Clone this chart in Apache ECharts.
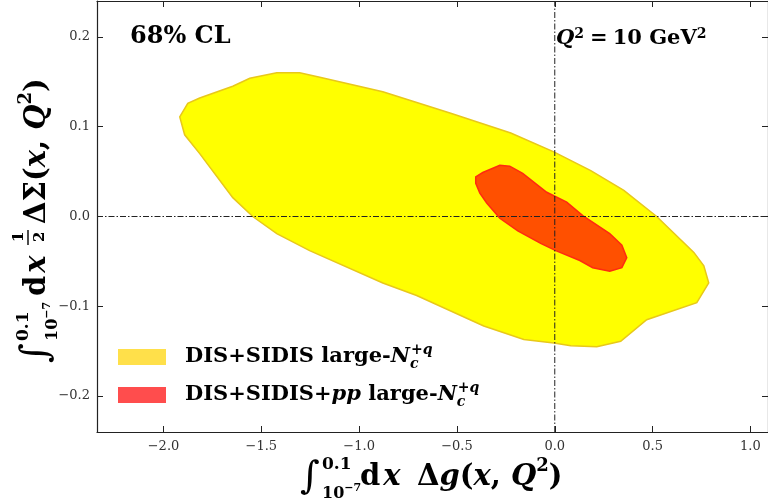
<!DOCTYPE html>
<html>
<head>
<meta charset="utf-8">
<script src="https://cdn.jsdelivr.net/npm/echarts@6/dist/echarts.min.js"></script>
<style>html,body{margin:0;padding:0;background:#fff}#c{width:768px;height:504px}</style>
</head>
<body>
<div id="c"></div>
<script>
// ---- data ----
const xTicks = [-2.0, -1.5, -1.0, -0.5, 0.0, 0.5, 1.0];
const yTicks = [-0.2, -0.1, 0.0, 0.1, 0.2];
const xRange = [-2.34, 1.09];
const yRange = [-0.24, 0.24];
const refX = 0.0;
const refY = 0.0;
const seriesNames = ['DIS+SIDIS large-Nc+q', 'DIS+SIDIS+pp large-Nc+q'];
// yellow 68% CL contour (DIS+SIDIS)
const yellowX = [-1.917, -1.876, -1.815, -1.646, -1.559, -1.421, -1.304, -1.201, -0.879, -0.532, -0.225, -0.005, 0.184, 0.353, 0.521, 0.711, 0.762, 0.787, 0.726, 0.470, 0.337, 0.215, 0.082, -0.005, -0.158, -0.363, -0.706, -0.879, -1.253, -1.421, -1.544, -1.646, -1.815, -1.892];
const yellowY = [0.111, 0.126, 0.132, 0.145, 0.154, 0.160, 0.160, 0.155, 0.139, 0.115, 0.093, 0.072, 0.051, 0.029, 0.000, -0.040, -0.055, -0.074, -0.096, -0.115, -0.139, -0.145, -0.144, -0.141, -0.137, -0.122, -0.088, -0.074, -0.038, -0.019, 0.000, 0.021, 0.070, 0.091];
// red 68% CL contour (DIS+SIDIS+pp)
const redX = [-0.404, -0.368, -0.281, -0.230, -0.164, -0.041, 0.061, 0.143, 0.281, 0.343, 0.368, 0.343, 0.281, 0.194, 0.128, 0.005, -0.072, -0.189, -0.281, -0.348, -0.383, -0.404];
const redY = [0.044, 0.049, 0.057, 0.056, 0.048, 0.027, 0.016, 0.001, -0.019, -0.032, -0.046, -0.057, -0.061, -0.057, -0.049, -0.038, -0.030, -0.016, -0.002, 0.015, 0.026, 0.037];

const SERIF = 'DejaVu Serif';
const fmtTick = v => (v < 0 ? '\u2212' : '') + Math.abs(v).toFixed(1);

function polySeries(name, xs, ys, fill, stroke, z) {
  const pts = xs.map((x, i) => [x, ys[i]]);
  return {
    type: 'custom', name: name, data: pts, z: z, silent: true,
    itemStyle: { color: fill },
    renderItem: function (params, api) {
      if (params.dataIndex !== 0) return null;
      return {
        type: 'polygon',
        shape: { points: pts.map(p => api.coord(p)) },
        style: { fill: fill, stroke: stroke, lineWidth: 1.5 }
      };
    }
  };
}

const axisLineStyle = { color: '#222', width: 1.2 };
const tickStyle = { inside: true, length: 6, lineStyle: { color: '#222', width: 1 } };

function mathRich(size, supSize, lh) {
  return {
    r: { fontFamily: SERIF, fontWeight: 'bold', fontSize: size, lineHeight: lh, verticalAlign: 'middle', fill: '#000' },
    i: { fontFamily: SERIF, fontWeight: 'bold', fontStyle: 'italic', fontSize: size, lineHeight: lh, verticalAlign: 'middle', fill: '#000' },
    ip: { fontFamily: SERIF, fontWeight: 'bold', fontStyle: 'italic', fontSize: size, lineHeight: lh, verticalAlign: 'middle', fill: '#000', padding: [0, 0, 0, 3] },
    s: { fontFamily: SERIF, fontWeight: 'bold', fontSize: supSize, lineHeight: lh, verticalAlign: 'top', fill: '#000' },
    g: { fontFamily: SERIF, fontWeight: 'bold', fontSize: size, lineHeight: lh, verticalAlign: 'middle', fill: '#000', padding: [0, 5, 0, 6] }
  };
}
const richMain = mathRich(29, 18, 40);

function txt(x, y, text, style) {
  return { type: 'text', x: x, y: y, silent: true, style: Object.assign({ text: text, fill: '#000', verticalAlign: 'middle' }, style) };
}

const subSupRich = {
  a: { fontFamily: SERIF, fontWeight: 'bold', fontSize: 16, lineHeight: 22, verticalAlign: 'middle', fill: '#000' },
  b: { fontFamily: SERIF, fontWeight: 'bold', fontSize: 11, lineHeight: 22, verticalAlign: 'top', fill: '#000' }
};

const legendRich = {
  t: { fontFamily: SERIF, fontWeight: 'bold', fontSize: 21, lineHeight: 28, verticalAlign: 'middle', color: '#000' },
  t0: { fontFamily: SERIF, fontWeight: 'bold', fontSize: 21, lineHeight: 28, verticalAlign: 'middle', color: '#000', padding: [0, 0, 0, 14] },
  it: { fontFamily: SERIF, fontWeight: 'bold', fontStyle: 'italic', fontSize: 21, lineHeight: 28, verticalAlign: 'middle', color: '#000' },
  sub: { fontFamily: SERIF, fontWeight: 'bold', fontStyle: 'italic', fontSize: 14, lineHeight: 28, verticalAlign: 'bottom', color: '#000', width: 1, align: 'left' },
  sup: { fontFamily: SERIF, fontWeight: 'bold', fontStyle: 'italic', fontSize: 14, lineHeight: 28, verticalAlign: 'top', color: '#000' }
};

const option = {
  animation: false,
  backgroundColor: '#fff',
  grid: { left: 97, right: 0, top: 1, bottom: 72 },
  legend: {
    left: 118, top: 343, orient: 'vertical', itemWidth: 48, itemHeight: 16, itemGap: 10, padding: 0,
    selectedMode: false, icon: 'rect',
    data: [
      { name: seriesNames[0], itemStyle: { color: '#ffe04a', borderWidth: 0 } },
      { name: seriesNames[1], itemStyle: { color: '#ff4d4d', borderWidth: 0 } }
    ],
    formatter: function (name) {
      if (name === seriesNames[0]) return '{t0|DIS+SIDIS large-}{it|N}{sub|c}{sup|+q}';
      return '{t0|DIS+SIDIS+}{it|pp}{t| large-}{it|N}{sub|c}{sup|+q}';
    },
    textStyle: { rich: legendRich }
  },
  xAxis: [
    { type: 'value', position: 'bottom', min: xRange[0], max: xRange[1], splitLine: { show: false },
      axisLine: { show: true, onZero: false, lineStyle: axisLineStyle },
      axisTick: Object.assign({ customValues: xTicks }, tickStyle),
      axisLabel: { customValues: xTicks, formatter: fmtTick, fontFamily: SERIF, fontSize: 13, color: '#333', margin: 8 } },
    { type: 'value', position: 'top', min: xRange[0], max: xRange[1], splitLine: { show: false },
      axisLine: { show: true, onZero: false, lineStyle: axisLineStyle },
      axisTick: Object.assign({ customValues: xTicks }, tickStyle),
      axisLabel: { show: false } }
  ],
  yAxis: [
    { type: 'value', position: 'left', min: yRange[0], max: yRange[1], splitLine: { show: false },
      axisLine: { show: true, onZero: false, lineStyle: axisLineStyle },
      axisTick: Object.assign({ customValues: yTicks }, tickStyle),
      axisLabel: { customValues: yTicks, formatter: fmtTick, fontFamily: SERIF, fontSize: 13, color: '#333', margin: 7 } },
    { type: 'value', position: 'right', min: yRange[0], max: yRange[1], splitLine: { show: false },
      axisLine: { show: true, onZero: false, lineStyle: axisLineStyle },
      axisTick: Object.assign({ customValues: yTicks }, tickStyle),
      axisLabel: { show: false } }
  ],
  series: [
    polySeries(seriesNames[0], yellowX, yellowY, '#ffff00', '#e8c81a', 2),
    polySeries(seriesNames[1], redX, redY, '#ff5000', '#ff2a10', 3),
    { type: 'line', data: [[refX, yRange[0]], [refX, yRange[1]]], symbol: 'none', silent: true, z: 5,
      lineStyle: { color: '#222', width: 1, type: [6, 2, 1.5, 2] } },
    { type: 'line', data: [[xRange[0], refY], [xRange[1], refY]], symbol: 'none', silent: true, z: 5,
      lineStyle: { color: '#222', width: 1, type: [6, 2, 1.5, 2] } }
  ],
  graphic: [
    txt(130, 37, '68% CL', { fontFamily: SERIF, fontWeight: 'bold', fontSize: 24 }),
    txt(556, 39, '{i|Q}{s|2}{g|=}{r|10 GeV}{s|2}', { rich: mathRich(21, 14, 24) }),
    // x-axis title
    { type: 'group', silent: true, children: [
      txt(300, 478, '\u222B', { fontFamily: SERIF, fontSize: 38 }),
      txt(322, 465, '0.1', { fontFamily: SERIF, fontWeight: 'bold', fontSize: 17 }),
      txt(322, 494, '{a|10}{b|\u22127}', { rich: subSupRich }),
      txt(360, 477, '{r|d}{ip|x}', { rich: richMain }),
      txt(417, 477, '{r|\u0394}{i|g}{r|(}{i|x}{r|, }{i|Q}{s|2}{r|)}', { rich: richMain })
    ] },
    // y-axis title (rotated)
    { type: 'group', x: 47, y: 360, rotation: Math.PI / 2, silent: true, children: [
      txt(-3, -10, '\u222B', { fontFamily: SERIF, fontSize: 38 }),
      txt(19, -23, '0.1', { fontFamily: SERIF, fontWeight: 'bold', fontSize: 17 }),
      txt(19, 6, '{a|10}{b|\u22127}', { rich: subSupRich }),
      txt(64, -10, '{r|d}{ip|x}', { rich: richMain }),
      txt(118, -28, '1', { fontFamily: SERIF, fontWeight: 'bold', fontSize: 15 }),
      { type: 'line', shape: { x1: 115, y1: -19, x2: 130, y2: -19 }, style: { stroke: '#000', lineWidth: 1.4 } },
      txt(118, -7, '2', { fontFamily: SERIF, fontWeight: 'bold', fontSize: 15 }),
      txt(136, -10, '{r|\u0394\u03A3}{r|(}{i|x}{r|, }{i|Q}{s|2}{r|)}', { rich: richMain })
    ] }
  ]
};

const chart = echarts.init(document.getElementById('c'), null, { renderer: 'canvas' });
chart.setOption(option);
</script>
</body>
</html>
